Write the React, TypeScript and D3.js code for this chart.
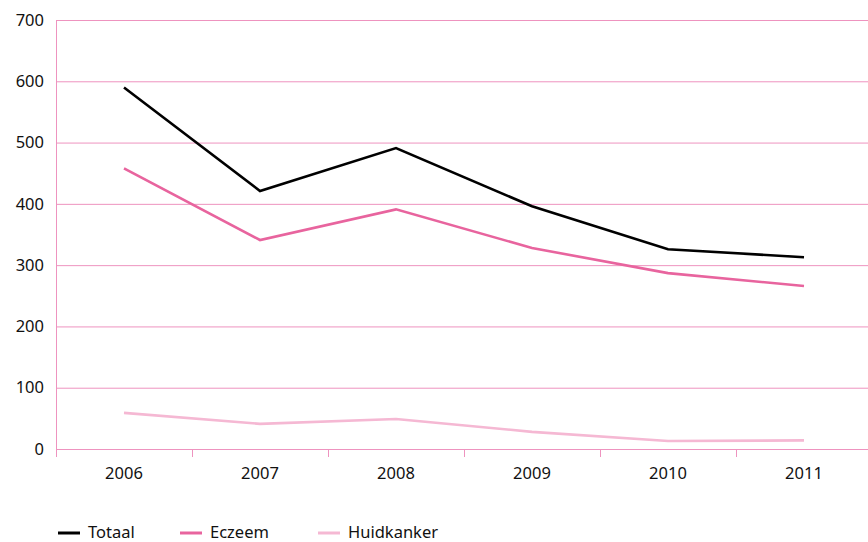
import * as d3 from "d3";
import { useEffect, useRef } from "react";

const years = ["2006", "2007", "2008", "2009", "2010", "2011"];
const totaal = [590, 421, 491, 396, 326, 313];
const eczeem = [458, 341, 391, 328, 287, 266];
const huidkanker = [59, 41, 49, 28, 13, 14];
const yTicks = [0, 100, 200, 300, 400, 500, 600, 700];

const series = [
  { name: "Totaal", values: totaal, color: "#000000" },
  { name: "Eczeem", values: eczeem, color: "#e8649e" },
  { name: "Huidkanker", values: huidkanker, color: "#f5b8d3" },
];

export default function App() {
  const ref = useRef<SVGSVGElement>(null);

  useEffect(() => {
    if (!ref.current) return;
    const svg = d3.select(ref.current);
    svg.selectAll("*").remove();

    const width = 868;
    const height = 542;
    const margin = { top: 20, left: 56, right: -4, bottom: 93 };
    const font = "'Noto Sans', sans-serif";
    const fontSize = 16.5;
    const gridColor = "#ee93bf";

    const x = d3
      .scaleBand()
      .domain(years)
      .range([margin.left, width - margin.right]);
    const y = d3
      .scaleLinear()
      .domain([0, 700])
      .range([height - margin.bottom, margin.top]);

    // gridlines
    svg
      .append("g")
      .selectAll("line")
      .data(yTicks)
      .enter()
      .append("line")
      .attr("x1", margin.left)
      .attr("x2", width)
      .attr("y1", (d) => y(d) + 0.5)
      .attr("y2", (d) => y(d) + 0.5)
      .attr("stroke", gridColor)
      .attr("stroke-width", 1);

    // y axis line
    svg
      .append("line")
      .attr("x1", margin.left + 0.5)
      .attr("x2", margin.left + 0.5)
      .attr("y1", y(700))
      .attr("y2", y(0) + 8)
      .attr("stroke", gridColor);

    // x ticks at band boundaries
    svg
      .append("g")
      .selectAll("line")
      .data(years.slice(1))
      .enter()
      .append("line")
      .attr("x1", (d) => x(d)! + 0.5)
      .attr("x2", (d) => x(d)! + 0.5)
      .attr("y1", y(0))
      .attr("y2", y(0) + 8)
      .attr("stroke", gridColor);

    // y labels
    svg
      .append("g")
      .selectAll("text")
      .data(yTicks)
      .enter()
      .append("text")
      .attr("x", 44)
      .attr("y", (d) => y(d))
      .attr("dy", "0.35em")
      .attr("text-anchor", "end")
      .attr("font-family", font)
      .attr("font-size", fontSize)
      .attr("fill", "#111")
      .text((d) => d);

    // x labels
    svg
      .append("g")
      .selectAll("text")
      .data(years)
      .enter()
      .append("text")
      .attr("x", (d) => x(d)! + x.bandwidth() / 2)
      .attr("y", y(0) + 30)
      .attr("text-anchor", "middle")
      .attr("font-family", font)
      .attr("font-size", fontSize)
      .attr("fill", "#111")
      .text((d) => d);

    const line = d3
      .line<number>()
      .x((_, i) => x(years[i])! + x.bandwidth() / 2)
      .y((d) => y(d));

    // draw back to front
    [...series].reverse().forEach((s) => {
      svg
        .append("path")
        .attr("d", line(s.values)!)
        .attr("fill", "none")
        .attr("stroke", s.color)
        .attr("stroke-width", 2.6);
    });

    // legend
    const legendX = [58, 180, 318];
    series.forEach((s, i) => {
      const g = svg.append("g").attr("transform", `translate(${legendX[i]},532)`);
      g.append("line")
        .attr("x1", 0)
        .attr("x2", 22)
        .attr("y1", 1)
        .attr("y2", 1)
        .attr("stroke", s.color)
        .attr("stroke-width", 3);
      g.append("text")
        .attr("x", 30)
        .attr("y", 0)
        .attr("dy", "0.35em")
        .attr("font-family", font)
        .attr("font-size", fontSize)
        .attr("fill", "#111")
        .text(s.name);
    });
  }, []);

  return (
    <div style={{ position: "absolute", left: 0, top: 0 }}>
      <svg ref={ref} width={868} height={542} style={{ display: "block" }}></svg>
    </div>
  );
}
